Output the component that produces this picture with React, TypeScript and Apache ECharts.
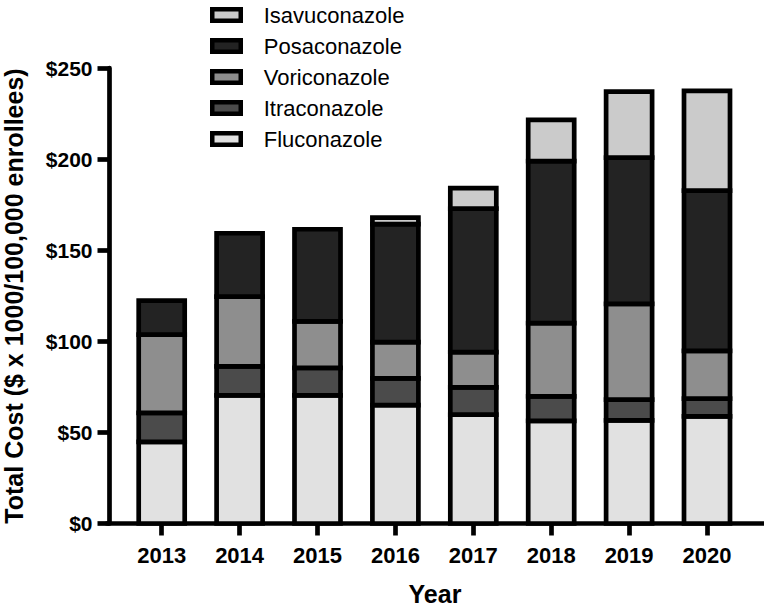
import React, { useEffect, useRef } from "react";
import * as echarts from "echarts";

const years = ["2013", "2014", "2015", "2016", "2017", "2018", "2019", "2020"];
const fluconazole = [44.8, 70.3, 70.3, 65.0, 59.8, 56.3, 56.6, 58.8];
const itraconazole = [15.9, 15.9, 15.1, 14.6, 14.9, 13.5, 11.4, 9.7];
const voriconazole = [43.0, 38.3, 25.5, 19.9, 19.4, 40.2, 52.5, 26.2];
const posaconazole = [18.6, 34.8, 50.6, 64.8, 78.7, 88.9, 80.3, 88.0];
const isavuconazole = [null, null, null, 3.6, 11.3, 22.6, 36.2, 54.7];

const seriesNames = ["Fluconazole", "Itraconazole", "Voriconazole", "Posaconazole", "Isavuconazole"];
const seriesData: (number | null)[][] = [fluconazole, itraconazole, voriconazole, posaconazole, isavuconazole];
const seriesColors = ["#e1e1e1", "#4b4b4b", "#8e8e8e", "#232323", "#cbcbcb"];
const legendOrder = ["Isavuconazole", "Posaconazole", "Voriconazole", "Itraconazole", "Fluconazole"];

const yMin = 0;
const yMax = 250;
const yStep = 50;

const FONT = "'Liberation Sans', Arial, Helvetica, sans-serif";
const LINE = 4.7;
const BAR_W = 46;

function stackedItems(k: number) {
  const items: number[][] = [];
  years.forEach((_, i) => {
    const v = seriesData[k][i];
    if (v == null) return;
    let base = 0;
    for (let j = 0; j < k; j++) base += seriesData[j][i] ?? 0;
    items.push([i, base, base + v]);
  });
  return items;
}

export default function App() {
  const ref = useRef<HTMLDivElement>(null);

  useEffect(() => {
    if (!ref.current) return;
    const chart = echarts.init(ref.current, undefined, { renderer: "svg" });
    const option = {
      animation: false,
      backgroundColor: "#ffffff",
      grid: [
        { left: 122.75, right: 764 - (122.75 + 8 * 77.9), top: 68, bottom: 84.5 },
        { left: 107, right: 0, top: 68, bottom: 84.5 },
      ],
      legend: {
        orient: "vertical",
        left: 210,
        top: 4,
        padding: 0,
        itemWidth: 28.5,
        itemHeight: 11.5,
        itemGap: 9,
        icon: "rect",
        data: legendOrder,
        itemStyle: { borderColor: "#000", borderWidth: 4.5 },
        textStyle: {
          fontFamily: FONT,
          fontSize: 22,
          color: "#000",
          lineHeight: 22,
          padding: [0, 0, 0, 18],
        },
        selectedMode: false,
      },
      xAxis: [
        {
          type: "category",
          gridIndex: 0,
          data: years,
          axisLine: { show: false },
          axisTick: {
            show: true,
            alignWithLabel: true,
            length: 12,
            lineStyle: { color: "#000", width: LINE },
          },
          axisLabel: {
            margin: 21,
            fontFamily: FONT,
            fontSize: 22,
            fontWeight: "bold",
            color: "#000",
          },
        },
        {
          type: "value",
          gridIndex: 1,
          min: 0,
          max: 1,
          axisLine: { show: true, onZero: false, lineStyle: { color: "#000", width: LINE } },
          axisTick: { show: false },
          axisLabel: { show: false },
          splitLine: { show: false },
        },
      ],
      yAxis: [
        {
          type: "value",
          gridIndex: 0,
          min: yMin,
          max: yMax,
          interval: yStep,
          offset: 13.25,
          axisLine: { show: true, lineStyle: { color: "#000", width: LINE } },
          axisTick: { show: true, length: 12, lineStyle: { color: "#000", width: LINE } },
          axisLabel: {
            margin: 17,
            fontFamily: FONT,
            fontSize: 21,
            fontWeight: "bold",
            color: "#000",
            formatter: (v: number) => "$" + v,
          },
          splitLine: { show: false },
        },
        {
          type: "value",
          gridIndex: 1,
          min: 0,
          max: 1,
          show: false,
        },
      ],
      series: seriesNames.map((name, k) => ({
        name,
        type: "custom",
        xAxisIndex: 0,
        yAxisIndex: 0,
        itemStyle: { color: seriesColors[k], borderColor: "#000", borderWidth: LINE },
        encode: { x: 0, y: [1, 2] },
        data: stackedItems(k),
        renderItem: (params: any, api: any) => {
          const ci = api.value(0);
          const lo = api.coord([ci, api.value(1)]);
          const hi = api.coord([ci, api.value(2)]);
          return {
            type: "rect",
            shape: { x: lo[0] - BAR_W / 2, y: hi[1], width: BAR_W, height: lo[1] - hi[1] },
            style: { fill: seriesColors[k], stroke: "#000", lineWidth: LINE },
          };
        },
        emphasis: { disabled: true },
      })),
      graphic: [
        {
          type: "text",
          x: 435,
          y: 594,
          style: {
            text: "Year",
            fontFamily: FONT,
            fontSize: 25,
            fontWeight: "bold",
            fill: "#000",
            textAlign: "center",
            textVerticalAlign: "middle",
          },
        },
        {
          type: "text",
          x: 13.5,
          y: 296,
          rotation: Math.PI / 2,
          style: {
            text: "Total Cost ($ x 1000/100,000 enrollees)",
            fontFamily: FONT,
            fontSize: 25,
            fontWeight: "bold",
            fill: "#000",
            textAlign: "center",
            textVerticalAlign: "middle",
          },
        },
      ],
    };
    chart.setOption(option as any);
    return () => chart.dispose();
  }, []);

  return (
    <div
      ref={ref}
      style={{ position: "absolute", left: 0, top: 0, width: 764, height: 608 }}
    />
  );
}
